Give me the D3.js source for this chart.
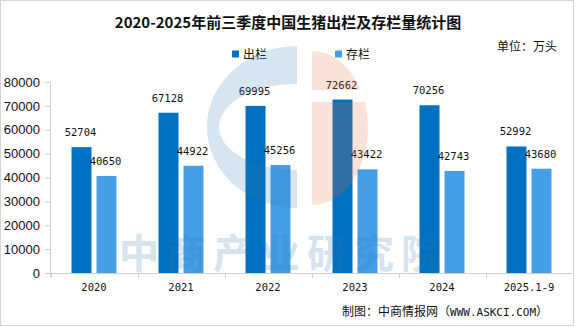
<!DOCTYPE html>
<html>
<head>
<meta charset="utf-8">
<script src="https://cdn.jsdelivr.net/npm/d3@7"></script>
<style>
  body { margin: 0; background: #fff; }
  svg { display: block; }
</style>
</head>
<body>
<svg id="chart" width="576" height="327"></svg>
<script>
// data
const categories = ["2020", "2021", "2022", "2023", "2024", "2025.1-9"];
const seriesNames = ["出栏", "存栏"];
const chulan = [52704, 67128, 69995, 72662, 70256, 52992];
const cunlan = [40650, 44922, 45256, 43422, 42743, 43680];
const yTicks = [0, 10000, 20000, 30000, 40000, 50000, 60000, 70000, 80000];
const colors = ["#0070c0", "#469ee6"];

const svg = d3.select("#chart"),
  width = +svg.attr("width"),
  height = +svg.attr("height");

const rows = categories.map((c, i) => ({ cat: c, vals: [chulan[i], cunlan[i]] }));

// frame
svg.append("rect")
  .attr("x", 0.5).attr("y", 0.5)
  .attr("width", 573).attr("height", 325)
  .attr("fill", "#fff")
  .attr("stroke", "#d4d4d4");

// scales
const x0 = d3.scaleBand()
  .domain(categories)
  .range([50.5, 572.5])
  .paddingInner(0.483)
  .paddingOuter(0.2415);

const x1 = d3.scaleBand()
  .domain(seriesNames)
  .range([0, x0.bandwidth()])
  .paddingInner(0.2);

const y = d3.scaleLinear().domain([0, 80000]).range([273, 82]);

// title
svg.append("text")
  .attr("x", width / 2)
  .attr("y", 28)
  .attr("text-anchor", "middle")
  .style("font-family", "'Noto Sans CJK SC'")
  .style("font-weight", "bold")
  .style("font-size", "15px")
  .attr("fill", "#111")
  .text("2020-2025年前三季度中国生猪出栏及存栏量统计图");

// unit
svg.append("text")
  .attr("x", 557)
  .attr("y", 51)
  .attr("text-anchor", "end")
  .style("font-family", "'Noto Sans CJK SC'")
  .style("font-size", "12px")
  .attr("fill", "#111")
  .text("单位：万头");

// legend
const legendX = [232, 335];
const legend = svg.append("g").attr("class", "legend")
  .selectAll("g")
  .data(seriesNames)
  .enter()
  .append("g")
  .attr("transform", (d, i) => `translate(${legendX[i]},54)`);
legend.append("rect")
  .attr("x", 0).attr("y", -3.5)
  .attr("width", 7).attr("height", 7)
  .attr("fill", (d, i) => colors[i]);
legend.append("text")
  .attr("x", 11).attr("y", 4.5)
  .style("font-family", "'Noto Sans CJK SC'")
  .style("font-size", "12px")
  .attr("fill", "#111")
  .text((d) => d);

// y axis
const yAxis = svg.append("g")
  .attr("transform", "translate(50,0)")
  .call(d3.axisLeft(y).tickValues(yTicks).tickSize(5).tickSizeOuter(0).tickPadding(5).tickFormat(d3.format("d")));
yAxis.select(".domain").attr("stroke", "#d0d0d0").attr("d", "M0.5,82V277");
yAxis.selectAll(".tick line").attr("stroke", "#d0d0d0");
yAxis.selectAll(".tick text")
  .style("font-family", "'Liberation Sans', Arial, sans-serif")
  .style("font-size", "13px")
  .attr("fill", "#111");

// bars
const groups = svg.append("g").attr("class", "bars")
  .selectAll("g")
  .data(rows)
  .enter()
  .append("g")
  .attr("transform", (d) => `translate(${x0(d.cat)},0)`);

groups.selectAll("rect")
  .data((d) => d.vals.map((v, i) => ({ key: seriesNames[i], v: v, i: i })))
  .enter()
  .append("rect")
  .attr("x", (d) => x1(d.key))
  .attr("y", (d) => y(d.v))
  .attr("width", x1.bandwidth())
  .attr("height", (d) => y(0) - y(d.v))
  .attr("fill", (d) => colors[d.i]);

groups.selectAll("text")
  .data((d) => d.vals.map((v, i) => ({ key: seriesNames[i], v: v, i: i })))
  .enter()
  .append("text")
  .attr("x", (d) => x1(d.key) + x1.bandwidth() / 2 - 1)
  .attr("y", (d) => y(d.v) - 11)
  .attr("text-anchor", "middle")
  .style("font-family", "'DejaVu Sans Mono', monospace")
  .style("font-size", "10.5px")
  .attr("fill", "#111")
  .text((d) => d.v);

// x axis
const xAxis = svg.append("g").attr("class", "xaxis");
xAxis.append("line")
  .attr("x1", 45).attr("x2", x0.range()[1])
  .attr("y1", y(0) + 0.5).attr("y2", y(0) + 0.5)
  .attr("stroke", "#d0d0d0");
const bounds = d3.range(categories.length).map((i) => x0.range()[0] + i * x0.step());
xAxis.selectAll("line.tk")
  .data(bounds)
  .enter()
  .append("line")
  .attr("class", "tk")
  .attr("x1", (d) => Math.round(d) + 0.5).attr("x2", (d) => Math.round(d) + 0.5)
  .attr("y1", y(0)).attr("y2", y(0) + 5)
  .attr("stroke", "#d0d0d0");
xAxis.selectAll("text")
  .data(categories)
  .enter()
  .append("text")
  .attr("x", (d) => x0(d) + x0.bandwidth() / 2)
  .attr("y", 291)
  .attr("text-anchor", "middle")
  .style("font-family", "'DejaVu Sans Mono', monospace")
  .style("font-size", "10.5px")
  .attr("fill", "#111")
  .text((d) => d);

// footer
const foot = svg.append("text")
  .attr("x", 342)
  .attr("y", 316)
  .style("font-family", "'Noto Sans CJK SC'")
  .style("font-size", "12px")
  .attr("fill", "#111");
foot.append("tspan").text("制图：中商情报网（");
foot.append("tspan").style("font-family", "'DejaVu Sans Mono', monospace").style("font-size", "11px").text("WWW.ASKCI.COM");
foot.append("tspan").text("）");

// watermark (drawn on top, semi transparent)
const wm = svg.append("g").attr("class", "watermark").style("pointer-events", "none");
wm.append("path")
  .attr("d", "M297,46 A90,81 0 0 0 297,208 L297,170 A78,43 0 0 1 297,84 Z")
  .attr("fill", "rgb(50,125,180)")
  .attr("opacity", 0.2);
wm.append("path")
  .attr("d", "M312,51 A56,77 0 0 1 360.7,90 L312,90 Z M312,102 L364.7,102 A56,77 0 0 1 312,205 Z")
  .attr("fill", "rgb(236,110,60)")
  .attr("opacity", 0.2);
wm.append("text")
  .attr("x", 119)
  .attr("y", 268)
  .style("font-family", "'Noto Sans CJK SC'")
  .style("font-weight", "bold")
  .style("font-size", "40px")
  .style("letter-spacing", "7px")
  .attr("fill", "rgb(50,125,180)")
  .attr("opacity", 0.2)
  .text("中商产业研究院");
</script>
</body>
</html>
